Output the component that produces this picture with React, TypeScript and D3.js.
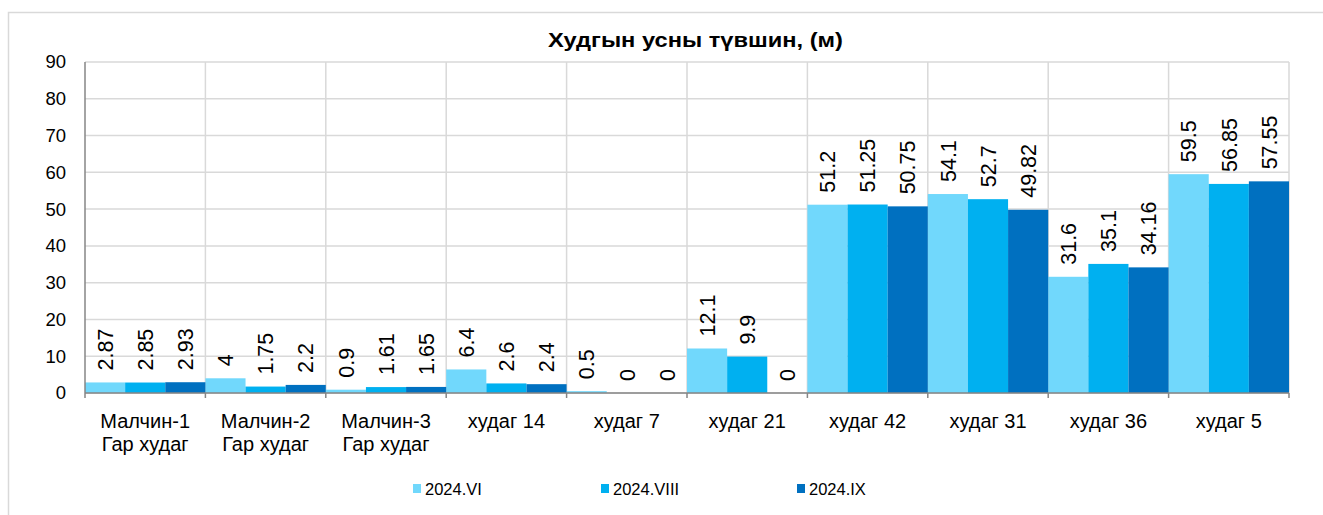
import * as d3 from "d3";

const categories = [
  ["Малчин-1", "Гар худаг"],
  ["Малчин-2", "Гар худаг"],
  ["Малчин-3", "Гар худаг"],
  ["худаг 14"],
  ["худаг 7"],
  ["худаг 21"],
  ["худаг 42"],
  ["худаг 31"],
  ["худаг 36"],
  ["худаг 5"],
];
const seriesNames = ["2024.VI", "2024.VIII", "2024.IX"];
const valuesVI = [2.87, 4, 0.9, 6.4, 0.5, 12.1, 51.2, 54.1, 31.6, 59.5];
const valuesVIII = [2.85, 1.75, 1.61, 2.6, 0, 9.9, 51.25, 52.7, 35.1, 56.85];
const valuesIX = [2.93, 2.2, 1.65, 2.4, 0, 0, 50.75, 49.82, 34.16, 57.55];
const yTicks = [0, 10, 20, 30, 40, 50, 60, 70, 80, 90];

const colors = ["#71d8fc", "#00b0f0", "#0070c0"];
const FONT = "Arial, 'Liberation Sans', sans-serif";

const W = 1323;
const H = 515;
const plot = { left: 85, right: 1289, top: 62, bottom: 393 };

export default function App() {
  const series = [valuesVI, valuesVIII, valuesIX];
  const idx = categories.map((_, i) => String(i));

  const x = d3.scaleBand().domain(idx).range([plot.left, plot.right]).padding(0);
  const x1 = d3
    .scaleBand()
    .domain(seriesNames)
    .range([0, x.bandwidth()])
    .padding(0);
  const y = d3.scaleLinear().domain([0, 90]).range([plot.bottom, plot.top]);

  const bounds = idx.map((c) => x(c)!).concat([plot.right]);
  const legendX = [413, 601, 797];

  return (
    <svg
      width={W}
      height={H}
      style={{ position: "absolute", left: 0, top: 0, fontFamily: FONT }}
    >
      <rect x={0} y={0} width={W} height={H} fill="#fff" />
      <rect x={8.5} y={12.5} width={1330} height={540} fill="#fff" stroke="#d9d9d9" strokeWidth={1.5} />

      <text
        x={548}
        y={47}
        fontWeight="bold"
        fontSize={21}
        textLength={295}
        lengthAdjust="spacingAndGlyphs"
        fill="#000"
      >
        Худгын усны түвшин, (м)
      </text>

      {/* horizontal grid */}
      {yTicks.map((t) => (
        <line key={"h" + t} x1={plot.left} x2={plot.right} y1={y(t)} y2={y(t)} stroke="#d9d9d9" strokeWidth={1.5} />
      ))}
      {/* vertical grid */}
      {bounds.slice(1).map((b, i) => (
        <line key={"v" + i} x1={b} x2={b} y1={plot.top} y2={plot.bottom} stroke="#d9d9d9" strokeWidth={1.5} />
      ))}

      {/* bars */}
      {series.map((vals, s) =>
        vals.map((v, i) => (
          <rect
            key={s + "-" + i}
            x={x(String(i))! + x1(seriesNames[s])!}
            y={y(v)}
            width={x1.bandwidth()}
            height={plot.bottom - y(v)}
            fill={colors[s]}
          />
        ))
      )}

      {/* axes */}
      <line x1={plot.left} x2={plot.left} y1={plot.top} y2={plot.bottom} stroke="#868686" strokeWidth={1.5} />
      <line x1={plot.left} x2={plot.right} y1={plot.bottom} y2={plot.bottom} stroke="#868686" strokeWidth={1.5} />
      {bounds.map((b, i) => (
        <line key={"t" + i} x1={b} x2={b} y1={plot.bottom} y2={plot.bottom + 5} stroke="#868686" strokeWidth={1.5} />
      ))}

      {/* y tick labels */}
      {yTicks.map((t) => (
        <text key={"yl" + t} x={66} y={y(t)} dy="0.35em" textAnchor="end" fontSize={18.5} fill="#000">
          {t}
        </text>
      ))}

      {/* data labels */}
      {series.map((vals, s) =>
        vals.map((v, i) => {
          const cx = x(String(i))! + x1(seriesNames[s])! + x1.bandwidth() / 2;
          const cy = y(v) - 12;
          return (
            <text
              key={"dl" + s + "-" + i}
              transform={`translate(${cx},${cy}) rotate(-90)`}
              dy="0.36em"
              fontSize={21.5}
              fill="#000"
            >
              {String(v)}
            </text>
          );
        })
      )}

      {/* category labels */}
      {categories.map((lines, i) => (
        <text key={"c" + i} x={x(String(i))! + x.bandwidth() / 2} y={428} textAnchor="middle" fontSize={20} fill="#000">
          {lines.map((l, j) => (
            <tspan key={j} x={x(String(i))! + x.bandwidth() / 2} dy={j === 0 ? 0 : 23}>
              {l}
            </tspan>
          ))}
        </text>
      ))}

      {/* legend */}
      {seriesNames.map((n, s) => (
        <g key={"lg" + s}>
          <rect x={legendX[s]} y={484} width={8} height={9} fill={colors[s]} />
          <text x={legendX[s] + 12} y={495} fontSize={16.5} fill="#000">
            {n}
          </text>
        </g>
      ))}
    </svg>
  );
}
